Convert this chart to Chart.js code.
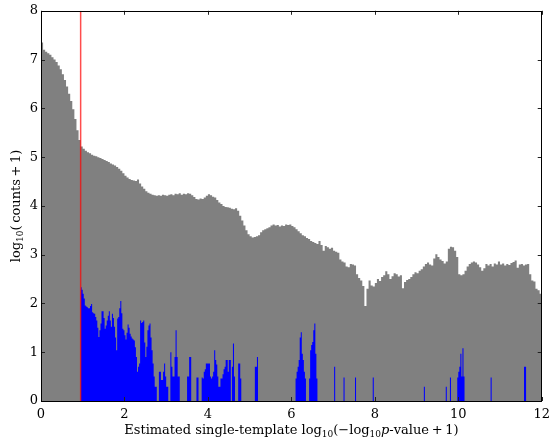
<!DOCTYPE html>
<html>
<head>
<meta charset="utf-8">
<script src="https://cdn.jsdelivr.net/npm/chart.js@4"></script>
<style>
  body { margin: 0; background: #fff; }
  canvas { display: block; }
</style>
</head>
<body>
<canvas id="hist" width="556" height="439"></canvas>
<script>
////////////////// Data ///////////////////////

// all templates: log10(counts+1) per 0.05-wide bin, starting at x = 0
const grayBinWidth = 0.05;
const grayLog = [
  7.35, 7.2, 7.16, 7.13, 7.1, 7.05, 7.0, 6.95, 6.88, 6.8,
  6.7, 6.58, 6.45, 6.3, 6.15, 5.98, 5.78, 5.55, 5.35, 5.22,
  5.17, 5.13, 5.1, 5.08, 5.05, 5.03, 5.02, 5.0, 4.98, 4.96,
  4.94, 4.92, 4.9, 4.87, 4.85, 4.83, 4.8, 4.76, 4.72, 4.67,
  4.62, 4.58, 4.55, 4.53, 4.52, 4.51, 4.54, 4.46, 4.4, 4.35,
  4.3, 4.27, 4.25, 4.23, 4.22, 4.21, 4.22, 4.21, 4.23, 4.22,
  4.21, 4.23, 4.24, 4.22, 4.25, 4.24, 4.26, 4.23, 4.25, 4.24,
  4.26, 4.25, 4.22, 4.18, 4.14, 4.13, 4.15, 4.14, 4.17, 4.21,
  4.24, 4.22, 4.19, 4.17, 4.12, 4.07, 4.04, 4.0, 3.98, 3.97,
  3.96, 3.94, 3.93, 3.95, 3.9, 3.8, 3.7, 3.6, 3.5, 3.42,
  3.38, 3.35, 3.36, 3.38, 3.4, 3.46, 3.5, 3.52, 3.54, 3.56,
  3.6, 3.62, 3.6, 3.61, 3.58, 3.6, 3.59, 3.62, 3.61, 3.62,
  3.59, 3.56, 3.52, 3.48, 3.44, 3.4, 3.38, 3.34, 3.32, 3.28,
  3.26, 3.24, 3.22, 3.28, 3.2, 3.08, 3.18, 3.15, 3.12, 3.14,
  3.08, 3.06, 3.04, 2.9, 2.86, 2.84, 2.76, 2.74, 2.81, 2.8,
  2.78, 2.6, 2.52, 2.47, 2.36, 1.95, 2.3, 2.47, 2.37, 2.35,
  2.42, 2.5, 2.46, 2.54, 2.58, 2.66, 2.6, 2.5, 2.56, 2.62,
  2.6, 2.55, 2.58, 2.31, 2.44, 2.48, 2.5, 2.54, 2.6, 2.64,
  2.62, 2.67, 2.7, 2.76, 2.81, 2.84, 2.8, 2.78, 2.92, 3.01,
  2.95, 2.9, 2.87, 2.82, 2.86, 3.12, 3.16, 3.15, 3.08, 2.95,
  2.6, 2.58, 2.6, 2.67, 2.76, 2.81, 2.84, 2.86, 2.84, 2.8,
  2.74, 2.67, 2.72, 2.81, 2.78, 2.81, 2.76, 2.82, 2.8, 2.86,
  2.8, 2.82, 2.78, 2.81, 2.79, 2.83, 2.85, 2.88, 2.73, 2.8,
  2.81, 2.78, 2.8, 2.81, 2.6, 2.47, 2.45, 2.3, 2.27, 2.2,
];

// selected templates: 0.025-wide bins starting at the threshold
const threshold = 0.95;
const blueBinWidth = 0.025;
const blueBinCount = 442;
const blueDense = [
  2.33, 2.28, 2.2, 2.1, 1.96, 1.94, 1.92, 1.9, 1.9, 1.95,
  1.99, 1.82, 1.8, 1.79, 1.72, 1.65, 1.5, 1.31, 1.45, 1.59,
  1.84, 1.84, 1.7, 1.48, 1.55, 1.65, 1.75, 1.84, 1.65, 1.52,
  1.79, 1.7, 1.52, 1.3, 1.04, 1.69, 1.72, 1.9, 2.05, 1.8,
  1.48, 1.45, 1.35, 1.26, 1.4, 1.57, 1.5, 1.38, 1.32, 1.28,
  1.26, 1.24, 1.1, 0.9, 0.6, 0.7, 0.77, 1.65, 1.6, 1.62,
  1.65, 1.2, 0.9, 1.11, 1.45, 1.55, 1.59, 1.3, 1.04, 0.77,
  0.5, 0.29, 0.29, 0, 0, 0.6, 0.6, 0.43, 0.43, 0.6,
  0.77, 0.5, 0.29, 0.29, 0, 0, 1.0, 0.7, 0.5, 0.5,
  0.9, 1.45, 0.9, 0.5, 0.5, 0, 0, 0, 0, 0,
  0, 0, 0.5, 0.5, 0.9, 0.9, 0, 0, 0, 0,
  0, 0.48, 0.48, 0, 0, 0, 0.48, 0.46, 0.6, 0.65,
  0.77, 0.77, 0.77, 0.77, 0.5, 0.46, 0.5, 0.6, 1.04, 0.84,
  0.75, 0.5, 0.29, 0.29, 0.46, 0.46, 0.55, 0.65, 0.7, 0.84,
  0.84, 0.6, 0.84, 0.84, 0, 0.7, 1.18, 0.5, 0, 0,
  0, 0.77, 0.77, 0.46, 0, 0, 0, 0, 0, 0,
  0, 0, 0, 0, 0, 0, 0, 0.7, 0.7, 0.9,
];
// isolated bins further right (bin index, value)
const blueSparseBins = [
  206, 207, 208, 209, 210, 211, 212, 213, 214, 215,
  219, 220, 221, 222, 223, 224, 225, 226,
  243, 252, 263, 280, 329, 350, 354,
  361, 362, 363, 364, 365, 366, 367, 393, 425, 426,
];
const blueSparseVals = [
  0.46, 0.6, 0.7, 0.84, 1.3, 1.41, 0.97, 0.84, 0.6, 0.46,
  0.46, 1.04, 1.15, 1.21, 1.45, 1.59, 0.97, 0.46,
  0.7, 0.48, 0.48, 0.48, 0.29, 0.29, 0.48,
  0.48, 0.6, 0.7, 0.97, 0.5, 1.08, 0.5, 0.48, 0.7, 0.7,
];

const xMin = 0, xMax = 12, xStep = 2;
const yMin = 0, yMax = 8, yStep = 1;

////////////////// Build points ///////////////////////

const grayPoints = grayLog.map((v, i) => ({ x: i * grayBinWidth, y: v }));
grayPoints.push({ x: xMax, y: grayLog[grayLog.length - 1] });

const blueVals = new Array(blueBinCount).fill(0);
blueDense.forEach((v, k) => (blueVals[k] = v));
blueSparseBins.forEach((k, j) => (blueVals[k] = blueSparseVals[j]));
const bluePoints = blueVals.map((v, k) => ({ x: threshold + k * blueBinWidth, y: v }));
bluePoints.push({ x: threshold + blueBinCount * blueBinWidth, y: 0 });

////////////////// Plugins ///////////////////////

const serif = "'DejaVu Serif', serif";

// draw a run of text pieces, some as subscripts
function drawRich(ctx, parts, cx, cy) {
  const widths = parts.map((p) => {
    ctx.font = (p.italic ? "italic " : "") + (p.sub ? 9 : 13) + "px " + serif;
    return ctx.measureText(p.t).width;
  });
  const total = widths.reduce((a, b) => a + b, 0);
  let x = cx - total / 2;
  ctx.textBaseline = "middle";
  ctx.textAlign = "left";
  parts.forEach((p, i) => {
    ctx.font = (p.italic ? "italic " : "") + (p.sub ? 9 : 13) + "px " + serif;
    ctx.fillText(p.t, x, cy + (p.sub ? 4 : 0));
    x += widths[i];
  });
}

const frame = {
  id: "frame",
  afterDraw(chart) {
    const { ctx, chartArea: a, scales: { x, y } } = chart;
    ctx.save();
    ctx.strokeStyle = "#222";
    ctx.lineWidth = 1;
    const len = 4;
    ctx.beginPath();
    x.ticks.forEach((t) => {
      const px = Math.round(x.getPixelForValue(t.value)) + 0.5;
      ctx.moveTo(px, a.bottom); ctx.lineTo(px, a.bottom - len);
      ctx.moveTo(px, a.top); ctx.lineTo(px, a.top + len);
    });
    y.ticks.forEach((t) => {
      const py = Math.round(y.getPixelForValue(t.value)) + 0.5;
      ctx.moveTo(a.left, py); ctx.lineTo(a.left + len, py);
      ctx.moveTo(a.right, py); ctx.lineTo(a.right - len, py);
    });
    ctx.stroke();
    ctx.strokeStyle = "#000";
    ctx.strokeRect(Math.round(a.left) + 0.5, Math.round(a.top) + 0.5,
      Math.round(a.right - a.left) - 1, Math.round(a.bottom - a.top));

    // axis titles
    ctx.fillStyle = "#000";
    drawRich(ctx, [
      { t: "Estimated single-template " },
      { t: "log" }, { t: "10", sub: true },
      { t: "(\u2212log" }, { t: "10", sub: true },
      { t: "p", italic: true }, { t: "-value\u2009+\u20091)" },
    ], (a.left + a.right) / 2, 431);

    ctx.translate(17, (a.top + a.bottom) / 2);
    ctx.rotate(-Math.PI / 2);
    drawRich(ctx, [
      { t: "log" }, { t: "10", sub: true }, { t: "(\u2009counts\u2009+\u20091)" },
    ], 0, 0);
    ctx.restore();
  },
};

////////////////// Chart ///////////////////////

const ctx = document.getElementById("hist");
const myChart = new Chart(ctx, {
  type: "line",
  data: {
    datasets: [
      {
        label: "threshold",
        data: [{ x: threshold, y: yMin }, { x: threshold, y: yMax }],
        borderColor: "rgba(255, 0, 0, 0.7)",
        borderWidth: 1.5,
        pointRadius: 0,
        fill: false,
      },
      {
        label: "selected",
        data: bluePoints,
        stepped: true,
        borderWidth: 0,
        borderColor: "rgba(0, 0, 0, 0)",
        backgroundColor: "#0000ff",
        pointRadius: 0,
        fill: "origin",
      },
      {
        label: "all",
        data: grayPoints,
        stepped: true,
        borderWidth: 0,
        borderColor: "rgba(0, 0, 0, 0)",
        backgroundColor: "#808080",
        pointRadius: 0,
        fill: "origin",
      },
    ],
  },
  options: {
    responsive: false,
    animation: false,
    events: [],
    layout: { padding: { top: 9, right: 10, left: 0, bottom: 0 } },
    scales: {
      x: {
        type: "linear",
        min: xMin,
        max: xMax,
        grid: { display: false, drawTicks: false },
        border: { display: false },
        ticks: { stepSize: xStep, padding: 6, color: "#000", font: { family: serif, size: 13 } },
        afterFit: (s) => { s.height = 38; },
      },
      y: {
        min: yMin,
        max: yMax,
        grid: { display: false, drawTicks: false },
        border: { display: false },
        ticks: { stepSize: yStep, padding: 3, color: "#000", font: { family: serif, size: 13 } },
        afterFit: (s) => { s.width = 41; },
      },
    },
    plugins: {
      legend: { display: false },
      tooltip: { enabled: false },
    },
  },
  plugins: [frame],
});
</script>
</body>
</html>
